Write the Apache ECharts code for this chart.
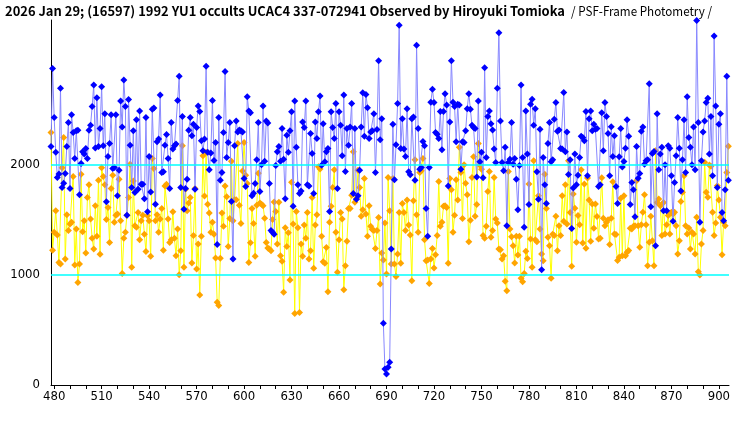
<!DOCTYPE html>
<html><head><meta charset="utf-8">
<script src="https://cdn.jsdelivr.net/npm/echarts@6/dist/echarts.min.js"></script>
<style>html,body{margin:0;padding:0;background:#fff}#c{width:740px;height:425px}</style>
</head><body><div id="c"></div>
<script>
const firstFrame = 478;

const blueFlux = [
2163,2870,2425,2110,1882,1913,2690,1790,1830,1918,
2163,2380,1782,2450,2290,2054,2305,2310,1725,2008,
2115,2094,2145,2054,2310,2355,2525,2720,2150,2605,
2163,2325,2705,2170,2460,1662,2072,2190,2450,1963,
1973,2450,1716,1948,2575,2340,2765,2525,1540,2590,
2175,1790,2305,1745,2405,1775,2485,1820,1820,1690,
2425,1570,2072,1750,2500,2512,1640,2205,2230,2630,
1926,1933,2175,2272,2054,1782,2380,2140,2170,2185,
2580,2800,1790,2435,1594,1782,1866,2310,2425,2260,
2365,1775,2335,2530,2480,2215,2125,2230,2890,2110,
1953,2105,2580,2035,2200,1275,2425,
1857,1928,2290,2843,2063,2200,2380,1665,1142,2170,
2395,2295,2313,2305,2295,1873,1800,2615,2485,2470,
1716,1740,1828,2042,2380,1755,1997,2530,2030,2395,
2375,1828,1400,1385,1367,1990,2115,2163,2030,2325,
2048,1690,2265,2110,2305,2477,1620,2575,2155,1815,
1737,1760,2385,2335,2575,1815,1805,2280,2100,1737,
2385,2235,2477,2620,1993,2370,2024,2115,2145,1573,
2477,2335,2235,2553,1782,2477,2355,2078,2630,1937,
2325,2175,2340,2553,1737,2325,1685,1716,1948,2340,
2650,2255,2635,2515,2235,2295,2305,2460,1928,2318,
2940,2225,2415,560,146,100,162,207,1233,2365,
1862,2178,2553,3262,2145,2415,2140,2072,2506,1933,
1906,2415,2430,1857,3082,2325,1957,1973,2208,2170,
1600,1348,1973,2565,2683,2562,2290,2275,2235,2480,
2133,2480,2642,2540,1805,2385,2940,2565,2525,2205,
2546,2540,1957,2205,2200,2305,2506,2642,2500,2355,
2335,2325,1887,2575,2024,2110,1880,2878,2063,2435,
2485,2370,2313,2140,2018,2690,3195,2395,2018,1943,
2155,1445,2018,2048,2380,2003,2054,1866,1590,1990,
2720,2063,1430,2485,2094,1637,2546,2592,2355,2506,
1933,1685,2320,1046,2063,1815,1646,2190,2380,2024,
2042,2410,2562,2300,2313,2145,2140,2652,2115,2295,
1910,2042,
1420,1786,2094,1815,1903,2063,2255,2245,2215,2480,
1897,2415,2485,2305,2365,2320,2325,1800,1815,2470,
2125,2562,2435,2280,1897,2343,2072,2260,1800,1646,
2070,2325,1978,2027,2148,2405,2255,1637,1836,1770,
1526,2163,1876,1918,2300,2340,2003,2033,2042,2733,
1617,2100,2118,1263,2460,1953,2094,2155,1580,1997,
1580,2170,2148,1897,1484,1836,2078,2425,2148,1760,
2042,2405,1926,2615,2245,2155,1997,2340,1953,3305,
2380,1475,2033,2295,2395,2562,2600,2094,2435,1897,
3166,2530,1790,2365,2460,1565,1490,1770,2800,1857
];

const orangeFlux = [
2290,1223,1385,1580,1360,1112,1097,1970,2245,1142,
1545,1400,1460,1475,1890,1088,1415,930,1097,1912,
1390,1490,1197,1700,1815,1505,1330,1233,1625,1350,
1857,1185,1970,1890,1815,1500,1610,1293,1782,1903,
1475,1540,1550,1866,1490,1012,1330,1385,1540,1700,
2003,1067,1850,1445,1430,1565,1318,1490,1540,1367,
1210,1535,1490,1167,2054,1963,1490,1545,1385,1505,
1600,1223,1805,1820,1505,1293,1318,1570,1330,1173,
1415,1000,1218,2170,1067,1775,1580,1650,1700,1106,
1355,1782,1052,1278,816,1350,2078,1715,2110,1640,
1560,1385,1475,1367,1152,750,720,
1150,1560,
1440,1805,1707,1257,1510,2030,1490,1680,1680,2190,
1630,1465,1940,2200,1903,1828,1112,1290,1600,1465,1167,
1630,1920,1650,1640,1625,1512,1293,1242,1233,1218,1500,
1660,1573,1278,1657,1173,1122,840,1425,1257,1380,952,
1838,1460,648,1573,1425,658,1278,1167,1450,1330,1565,
1142,1218,1700,1058,1450,1545,1980,1958,1350,1118,
1103,1248,846,1475,1620,1790,1953,1385,1022,1318,1565,
1505,864,1082,1303,1600,1600,1720,2115,1657,1690,1948,
1790,1530,1590,1873,1550,1350,1625,1440,1410,1400,
1238,1400,1520,915,1197,1133,1470,1006,1882,1580,1097,
1873,
1097,985,1188,1565,1103,1646,1565,1400,1677,1450,1360,
946,1670,2042,1545,1385,1928,1943,2054,1318,1127,
1133,921,1142,1238,1061,1182,1355,1845,1440,1475,
1620,1625,1610,1103,1873,1770,1385,1540,1862,1677,
2155,1928,1510,1997,1830,1725,1300,1495,1882,2070,
1530,1637,2190,1993,1957,1355,1330,1440,1755,1937,
1340,1400,1882,1505,1470,1233,1227,1142,1173,940,
855,1937,1415,1345,1263,1106,1350,1180,1350,967,
937,1012,1212,1148,1822,1325,1067,2033,1318,1300,
1716,1415,1188,1127,1912,1600,1340,1263,967,1367,
1355,1530,1218,1445,1355,1716,1484,1815,1460,2033,
1565,
1076,1732,1602,1294,1536,1454,1952,1288,1823,1240,
1877,1678,1303,1641,1421,1641,1527,1324,1330,1880,
1512,1445,1475,1499,1273,1512,1844,1370,1364,1128,
1158,1693,1173,1717,1173,1204,1219,1421,1415,1439,
1445,1853,1445,1249,1454,1566,1726,1454,1082,1294,
1530,1309,1082,2125,1656,1687,1626,1355,1656,1370,
1454,1536,1370,1566,1551,1566,1445,1189,1309,1663,
1747,1898,1445,1370,1424,1234,1385,1370,1189,1521,
1028,998,1279,1400,2019,1747,1702,1995,1983,1566,
1355,1469,1808,1678,1521,1182,1475,1445,1928,2164
];

const xLabelValues = [480,510,540,570,600,630,660,690,720,750,780,810,840,870,900];
const xTickValues = [480,490,500,510,520,530,540,550,560,570,580,590,600,610,620,630,640,650,660,670,680,690,700,710,720,730,740,750,760,770,780,790,800,810,820,830,840,850,860,870,880,890,900];
const yLabelValues = [0,1000,2000];
const gridLevels = [1000,2000];
const titleMain = '2026 Jan 29; (16597) 1992 YU1 occults UCAC4 337-072941 Observed by Hiroyuki Tomioka';
const titleSub = '/ PSF-Frame Photometry /';

const labelFont = '"Liberation Sans Narrow", "DejaVu Sans Condensed", "Noto Sans", sans-serif';
const titleFamily = '"Noto Sans CJK JP", "Noto Sans", sans-serif';

function measure(text, font) {
  const ctx = document.createElement('canvas').getContext('2d');
  ctx.font = font;
  return ctx.measureText(text).width;
}
const mainFont = 'bold 13px ' + titleFamily;
const subFont = 'normal 13px ' + titleFamily;
const mainScale = 560 / measure(titleMain, mainFont);
const subScale = 141 / measure(titleSub, subFont);

const blueData = blueFlux.map((v, i) => [firstFrame + i, v]);
const orangeData = orangeFlux.map((v, i) => [firstFrame + i, v]);

const chart = echarts.init(document.getElementById('c'), null, {renderer: 'canvas'});
chart.setOption({
  animation: false,
  backgroundColor: '#fff',
  grid: {left: 51, right: 11, top: 20, bottom: 40, containLabel: false},
  graphic: [
    {type: 'text', x: 5, y: 11, scaleX: mainScale,
     style: {text: titleMain, font: mainFont, fill: '#000', verticalAlign: 'middle'}},
    {type: 'text', x: 571, y: 11, scaleX: subScale,
     style: {text: titleSub, font: subFont, fill: '#000', verticalAlign: 'middle'}}
  ],
  xAxis: {
    type: 'value', min: 478, max: 906.4,
    axisLine: {show: true, lineStyle: {color: '#000', width: 1}},
    axisTick: {show: true, customValues: xTickValues, length: 4, lineStyle: {color: '#000'}},
    axisLabel: {customValues: xLabelValues, color: '#000', fontSize: 13, fontFamily: labelFont, margin: 5,
      formatter: v => String(v)},
    splitLine: {show: false}
  },
  yAxis: {
    type: 'value', min: 0, max: 3310,
    axisLine: {show: true, lineStyle: {color: '#000', width: 1}},
    axisTick: {show: false},
    axisLabel: {customValues: yLabelValues, color: '#000', fontSize: 13, fontFamily: labelFont, margin: 11,
      formatter: v => String(v)},
    splitLine: {show: false}
  },
  series: [
    {type: 'line', data: orangeData, z: 1, symbol: 'diamond', symbolSize: 7, showAllSymbol: true,
     lineStyle: {color: '#ffff00', width: 1}, itemStyle: {color: '#ffa500'}},
    {type: 'line', data: [], z: 2, silent: true,
     markLine: {silent: true, symbol: 'none', label: {show: false},
       lineStyle: {color: '#00ffff', width: 1.5, type: 'solid'},
       data: gridLevels.map(v => ({yAxis: v}))}},
    {type: 'line', data: blueData, z: 3, symbol: 'diamond', symbolSize: 7, showAllSymbol: true,
     lineStyle: {color: '#8888ff', width: 1}, itemStyle: {color: '#0000ff'}}
  ]
});
</script></body></html>
